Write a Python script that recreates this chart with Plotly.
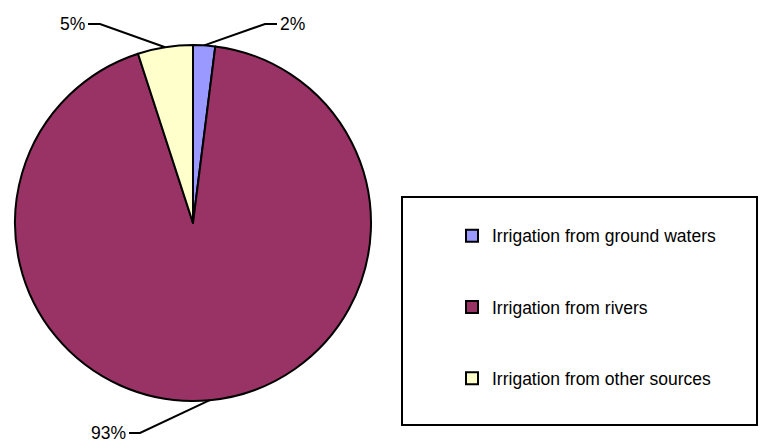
import math
import plotly.graph_objects as go

# ---- data ----
categories = ["Irrigation from ground waters", "Irrigation from rivers", "Irrigation from other sources"]
values = [2, 93, 5]
pct_labels = ["2%", "93%", "5%"]
colors = ["#9999FF", "#993366", "#FFFFCC"]

# ---- layout constants (pixels) ----
W, H = 765, 444
CX, CY, R = 193, 223, 178
FONT = "Liberation Sans, Arial, sans-serif"
# elbow point and text position for each label (styling)
label_pos = [
    {"elbow": (265, 24), "end": (277, 24), "anchor": "left"},
    {"elbow": (140, 433), "end": (129, 433), "anchor": "right"},
    {"elbow": (100, 24), "end": (88, 24), "anchor": "right"},
]


def px(x):
    return x / W


def py(y):
    return 1 - y / H


fig = go.Figure()
fig.add_trace(go.Pie(
    labels=["<br>" + c + "<br> " for c in categories],
    values=values,
    sort=False,
    direction="clockwise",
    rotation=0,
    textinfo="none",
    marker=dict(colors=colors, line=dict(color="black", width=2)),
    domain=dict(x=[px(CX - R), px(CX + R)], y=[py(CY + R), py(CY - R)]),
    showlegend=True,
    hoverinfo="skip",
))

shapes = []
annotations = []
total = sum(values)
cum = 0
for v, lab, lp in zip(values, pct_labels, label_pos):
    mid = (cum + v / 2) / total * 2 * math.pi
    cum += v
    ex = CX + R * math.sin(mid)
    ey = CY - R * math.cos(mid)
    path = "M {} {} L {} {} L {} {}".format(
        px(ex), py(ey), px(lp["elbow"][0]), py(lp["elbow"][1]), px(lp["end"][0]), py(lp["end"][1]))
    shapes.append(dict(type="path", xref="paper", yref="paper", path=path,
                       line=dict(color="black", width=2)))
    annotations.append(dict(
        x=px(lp["end"][0] + (1 if lp["anchor"] == "left" else -1)), y=py(lp["end"][1]),
        xref="paper", yref="paper", text=lab, showarrow=False,
        xanchor=lp["anchor"], yanchor="middle",
        font=dict(family=FONT, size=17.5, color="black")))

# legend frame
shapes.append(dict(type="rect", xref="paper", yref="paper",
                   x0=px(402), x1=px(757), y0=py(425), y1=py(197),
                   line=dict(color="black", width=2), fillcolor="rgba(0,0,0,0)"))

fig.update_layout(
    width=W, height=H,
    margin=dict(l=0, r=0, t=0, b=0),
    paper_bgcolor="white",
    plot_bgcolor="white",
    shapes=shapes,
    annotations=annotations,
    legend=dict(
        x=px(452), y=py(195), xanchor="left", yanchor="top",
        font=dict(family=FONT, size=17.5, color="black"),
        bgcolor="rgba(0,0,0,0)", borderwidth=0,
        itemclick=False, itemdoubleclick=False,
    ),
)

fig.write_html("out.html", config={"displayModeBar": False},
               post_script="document.body.style.margin='0';")
